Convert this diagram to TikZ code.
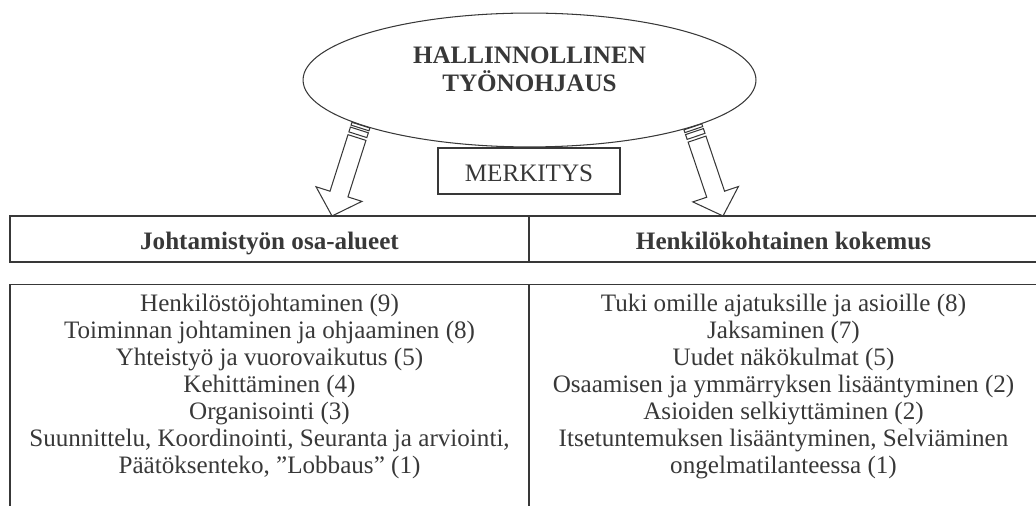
\documentclass[tikz,border=0pt]{standalone}
\usepackage{fontspec}
\setmainfont{Liberation Serif}
\usetikzlibrary{shapes.geometric,positioning,calc}
\definecolor{ink}{gray}{0.22}

% hollow arrow with two stripes at its tail, from #1 to #2
\newcommand{\stripedarrow}[2]{%
  \coordinate (sa-t) at (#1);
  \coordinate (sa-h) at (#2);
  \foreach \d/\n in {0pt/a,1.4pt/b,2.4pt/c,4.8pt/d,6.2pt/e}{
    \coordinate (sa-\n) at ($(sa-t)!\d!(sa-h)$);
  }
  \coordinate (sa-f) at ($(sa-h)!11pt!(sa-t)$);
  \foreach \p/\q in {a/b,c/d}{
    \draw[arrowline] ($(sa-\p)!4.5pt!90:(sa-h)$) -- ($(sa-\q)!4.5pt!90:(sa-h)$)
      -- ($(sa-\q)!4.5pt!-90:(sa-h)$) -- ($(sa-\p)!4.5pt!-90:(sa-h)$) -- cycle;
  }
  \draw[arrowline] ($(sa-e)!4.5pt!90:(sa-h)$) -- ($(sa-f)!4.5pt!90:(sa-h)$)
    -- ($(sa-f)!11.5pt!90:(sa-h)$) -- (sa-h) -- ($(sa-f)!11.5pt!-90:(sa-h)$)
    -- ($(sa-f)!4.5pt!-90:(sa-h)$) -- ($(sa-e)!4.5pt!-90:(sa-h)$) -- cycle;
}

\begin{document}
\begin{tikzpicture}[x=0.478pt, y=-0.478pt, color=ink,
  font=\fontsize{12}{12.8}\selectfont,
  arrowline/.style={line width=0.5pt, line join=miter},
  hdr/.style={draw, line width=0.7pt, minimum height=22pt, inner sep=0pt,
    font=\bfseries\fontsize{12}{12.8}\selectfont, text height=9.6pt, text depth=0pt},
  listbox/.style={draw, line width=0.7pt, anchor=north, minimum height=150pt},
  listtext/.style={align=center, inner sep=0pt,
    font=\fontsize{12}{12.9}\selectfont},
  title/.style={align=center, inner sep=0pt,
    font=\bfseries\fontsize{12}{13.2}\selectfont}]
\useasboundingbox (0,0) rectangle (1036,506);

\node[draw, ellipse, line width=0.5pt, inner sep=0pt,
  minimum width=216.5pt, minimum height=64pt] (hall) at (529.5,80) {};
\node[title, below=16.4pt of hall.north] (halltitle) {HALLINNOLLINEN\\TYÖNOHJAUS};

\node[draw, line width=0.7pt, inner sep=0pt, minimum width=87pt, minimum height=22pt,
  text height=10.5pt, text depth=0pt] (merk) at (529,171) {MERKITYS};

\node[hdr, minimum width=248.1pt] (lhdr) at (269.5,239) {Johtamistyön osa-alueet};
\node[hdr, minimum width=243.3pt] (rhdr) at (783.5,239) {Henkilökohtainen kokemus};

\node[listbox, minimum width=248.1pt] (lbox) at (269.5,284) {};
\node[listbox, minimum width=243.3pt] (rbox) at (783.5,284) {};

\node[listtext, below=4.5pt of lbox.north] (llist) {Henkilöstöjohtaminen (9)\\
  Toiminnan johtaminen ja ohjaaminen (8)\\
  Yhteistyö ja vuorovaikutus (5)\\
  Kehittäminen (4)\\
  Organisointi (3)\\
  Suunnittelu, Koordinointi, Seuranta ja arviointi,\\
  Päätöksenteko, ”Lobbaus” (1)};
\node[listtext, below=4.5pt of rbox.north] (rlist) {Tuki omille ajatuksille ja asioille (8)\\
  Jaksaminen (7)\\
  Uudet näkökulmat (5)\\
  Osaamisen ja ymmärryksen lisääntyminen (2)\\
  Asioiden selkiyttäminen (2)\\
  Itsetuntemuksen lisääntyminen, Selviäminen\\
  ongelmatilanteessa (1)};

\coordinate (ltip) at (332,216);
\coordinate (rtip) at (723,216);
\stripedarrow{hall.195.6}{ltip}
\stripedarrow{hall.-16.4}{rtip}
\end{tikzpicture}
\end{document}
